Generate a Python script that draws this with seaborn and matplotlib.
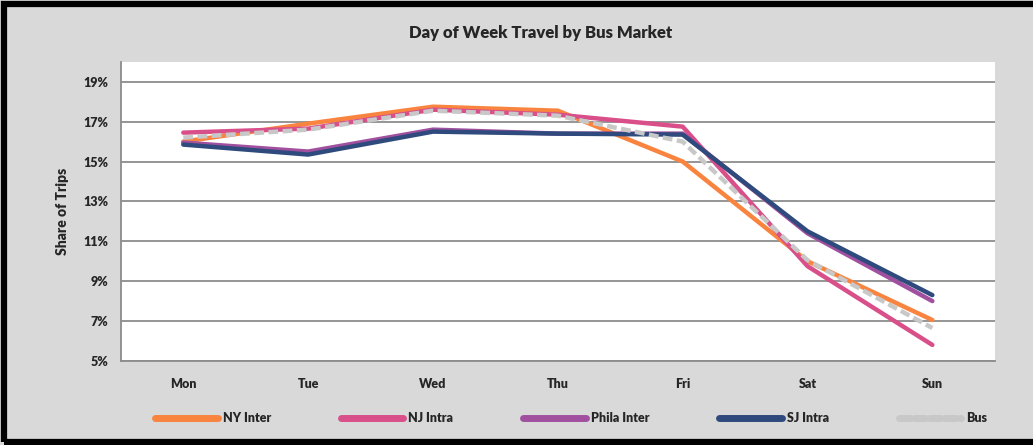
import matplotlib
matplotlib.use("Agg")
import matplotlib.pyplot as plt
from matplotlib.lines import Line2D
from matplotlib.patches import Rectangle
from matplotlib.ticker import FixedLocator, FuncFormatter
import seaborn as sns
import pandas as pd

days = ["Mon", "Tue", "Wed", "Thu", "Fri", "Sat", "Sun"]
ny_inter = [16.0, 16.9, 17.75, 17.55, 15.0, 10.0, 7.05]
nj_intra = [16.45, 16.65, 17.6, 17.35, 16.75, 9.75, 5.8]
phila_inter = [15.95, 15.5, 16.6, 16.4, 16.4, 11.4, 8.0]
sj_intra = [15.85, 15.35, 16.5, 16.4, 16.35, 11.5, 8.3]
bus = [16.2, 16.6, 17.55, 17.3, 16.0, 10.05, 6.65]
markets = ["NY Inter", "NJ Intra", "Phila Inter", "SJ Intra", "Bus"]
series = [ny_inter, nj_intra, phila_inter, sj_intra, bus]
y_ticks = [5, 7, 9, 11, 13, 15, 17, 19]

colors = {
    "NY Inter": "#F9843F",
    "NJ Intra": "#D84F8A",
    "Phila Inter": "#A0509F",
    "SJ Intra": "#2F4A7D",
    "Bus": "#C8C8C8",
}
dashes = {m: "" for m in markets}
dashes["Bus"] = (2.2, 1.0)

rows = []
for m, vals in zip(markets, series):
    for d, v in zip(days, vals):
        rows.append({"Day": d, "Share": v, "Market": m})
df = pd.DataFrame(rows)

sns.set_style("white")
plt.rcParams["font.family"] = ["Lato", "DejaVu Sans"]

fig = plt.figure(figsize=(10.33, 4.45), dpi=100, facecolor="#D9D9D9")
ax = fig.add_axes([0.117, 0.189, 0.846, 0.672])
ax.set_facecolor("white")

for y in y_ticks:
    ax.axhline(y, color="#8C8C8C", lw=1.3, zorder=0)

sns.lineplot(data=df, x="Day", y="Share", hue="Market", style="Market",
             hue_order=markets, style_order=markets, palette=colors,
             dashes=dashes, linewidth=3.2, legend=False, ax=ax, sort=False)

ax.set_xlim(-0.5, 6.5)
ax.set_ylim(5, 20)
ax.yaxis.set_major_locator(FixedLocator(y_ticks))
ax.yaxis.set_major_formatter(FuncFormatter(lambda v, p: f"{v:.0f}%"))
ax.set_xticks(range(len(days)))
ax.set_xticklabels(days)
ax.xaxis.set_minor_locator(FixedLocator([i - 0.5 for i in range(len(days) + 1)]))
ax.tick_params(axis="x", which="major", length=0, pad=12)
ax.tick_params(axis="x", which="minor", length=5, width=1.3, color="#8C8C8C", direction="out")
ax.tick_params(axis="y", which="major", length=5, width=1.3, color="#8C8C8C", direction="out", pad=4)
for lab in ax.get_xticklabels() + ax.get_yticklabels():
    lab.set_fontweight("heavy")
    lab.set_fontsize(9)
    lab.set_color("#262626")

for side in ["top", "right"]:
    ax.spines[side].set_visible(False)
for side in ["left", "bottom"]:
    ax.spines[side].set_color("#8C8C8C")
    ax.spines[side].set_linewidth(1.3)

ax.set_xlabel("")
ax.set_ylabel("Share of Trips", fontsize=10, fontweight="heavy", color="#262626", labelpad=10)

fig.text(0.523, 0.925, "Day of Week Travel by Bus Market", ha="center", va="center",
         fontsize=12, fontweight="heavy", color="#262626")

handles = [Line2D([0], [0], color=colors[m], lw=5,
                  linestyle=(0, (1.6, 0.6)) if m == "Bus" else "-",
                  solid_capstyle="round", dash_capstyle="round") for m in markets]
leg = fig.legend(handles, markets, loc="center", bbox_to_anchor=(0.553, 0.06), ncol=5,
                 frameon=False, handlelength=5.0, handletextpad=0.4, columnspacing=5.6,
                 prop={"weight": "heavy", "size": 9})
for t in leg.get_texts():
    t.set_color("#262626")

fig.patches.append(Rectangle((0.004, 0.006), 1.2, 0.984, transform=fig.transFigure,
                             fill=False, edgecolor="black", linewidth=4.5))

fig.savefig("out.png", dpi=100, facecolor=fig.get_facecolor())
